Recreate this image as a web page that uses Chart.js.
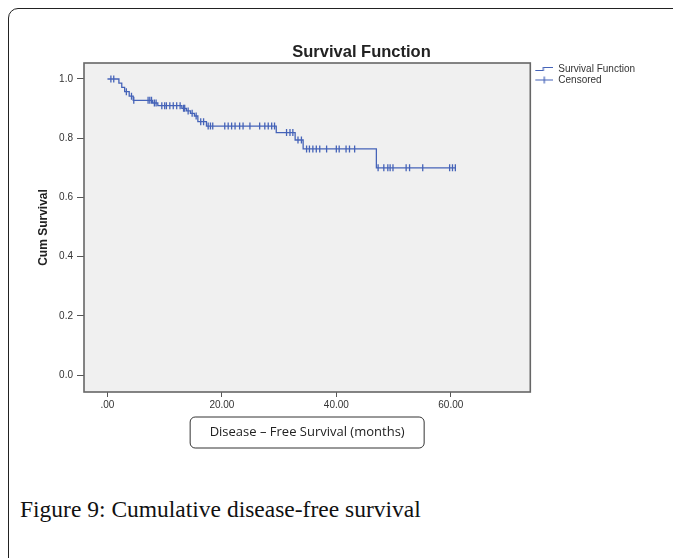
<!DOCTYPE html>
<html>
<head>
<meta charset="utf-8">
<script src="https://cdn.jsdelivr.net/npm/chart.js@4"></script>
<style>
  html, body { margin: 0; padding: 0; background: #fff; overflow: hidden; }
  body { width: 673px; height: 558px; position: relative; }
  #frame {
    position: absolute; left: 8px; top: 8px; width: 720px; height: 620px;
    border: 1.3px solid #222; border-radius: 10px; box-sizing: border-box;
  }
  #chart { position: absolute; left: 0; top: 0; }
  #caption {
    position: absolute; left: 20px; top: 496px;
    font-family: "Liberation Serif", "Times New Roman", serif; font-size: 23.5px; color: #111;
  }
</style>
</head>
<body>
<div id="frame"></div>
<canvas id="chart" width="673" height="460"></canvas>
<div id="caption">Figure 9: Cumulative disease-free survival</div>
<script>
// Kaplan-Meier steps: time (months) and survival after each event
const survTimes  = [0, 2.0, 2.5, 3.0, 3.8, 4.5, 7.9, 8.8, 13.0, 13.8, 14.5, 15.2, 15.8, 17.3, 29.5, 32.8, 34.2, 47.0, 60.9];
const survValues = [1.0, 0.986, 0.972, 0.957, 0.942, 0.928, 0.919, 0.910, 0.901, 0.892, 0.884, 0.875, 0.856, 0.841, 0.819, 0.794, 0.764, 0.700, 0.700];

// censored cases
const censorTimes = [
  0.6, 1.1, 3.3, 4.2, 4.6,
  7.1, 7.4, 7.7, 8.2, 8.5,
  9.5, 10.0, 10.3, 10.9, 11.5, 12.1, 12.7,
  13.3, 13.5, 14.1, 14.8, 15.5, 16.3, 16.8,
  17.6, 18.0, 18.4, 20.5, 21.1, 21.7, 22.3, 23.1, 23.7, 24.9, 26.6, 27.5, 28.1, 28.7, 29.2,
  31.3, 31.9, 32.4, 33.3, 33.9,
  34.8, 35.3, 35.9, 36.5, 37.1, 38.3, 40.0, 40.5, 41.7, 42.3, 43.2,
  47.3, 48.3, 49.0, 49.4, 49.9, 52.2, 52.8, 55.1, 59.8, 60.3, 60.8
];
const censorValues = [
  1.0, 1.0, 0.957, 0.942, 0.928,
  0.928, 0.928, 0.928, 0.919, 0.919,
  0.910, 0.910, 0.910, 0.910, 0.910, 0.910, 0.910,
  0.901, 0.901, 0.892, 0.884, 0.875, 0.856, 0.856,
  0.841, 0.841, 0.841, 0.841, 0.841, 0.841, 0.841, 0.841, 0.841, 0.841, 0.841, 0.841, 0.841, 0.841, 0.841,
  0.819, 0.819, 0.819, 0.794, 0.794,
  0.764, 0.764, 0.764, 0.764, 0.764, 0.764, 0.764, 0.764, 0.764, 0.764, 0.764,
  0.700, 0.700, 0.700, 0.700, 0.700, 0.700, 0.700, 0.700, 0.700, 0.700, 0.700
];

const xTickValues = [0, 20, 40, 60];
const xTickLabels = ['.00', '20.00', '40.00', '60.00'];
const yTickValues = [0, 0.2, 0.4, 0.6, 0.8, 1.0];
const yTickLabels = ['0.0', '0.2', '0.4', '0.6', '0.8', '1.0'];

const seriesNames = ['Survival Function', 'Censored'];
const chartTitle = 'Survival Function';
const xTitle = 'Disease \u2013 Free Survival (months)';
const yTitle = 'Cum Survival';

const blue = '#4563b8';
const sans = '"Liberation Sans", Arial, sans-serif';

// legend icons
function makeIcon(kind) {
  const c = document.createElement('canvas');
  c.width = 22; c.height = 10;
  const g = c.getContext('2d');
  g.strokeStyle = blue;
  g.lineWidth = 1.2;
  g.beginPath();
  if (kind === 'step') {
    g.moveTo(4, 6.5); g.lineTo(12, 6.5); g.lineTo(12, 3.5); g.lineTo(22, 3.5);
  } else {
    g.moveTo(4, 5); g.lineTo(22, 5);
    g.moveTo(13, 1.5); g.lineTo(13, 8.5);
  }
  g.stroke();
  return c;
}
const legendIcons = [makeIcon('step'), makeIcon('tick')];

const spssPlot = {
  id: 'spssPlot',
  beforeDraw(chart) {
    const {ctx, chartArea: a} = chart;
    ctx.save();
    ctx.fillStyle = '#f0f0f0';
    ctx.fillRect(a.left, a.top, a.right - a.left, a.bottom - a.top);
    ctx.restore();
  },
  afterDraw(chart) {
    const {ctx, chartArea: a} = chart;
    ctx.save();
    ctx.strokeStyle = '#666';
    ctx.lineWidth = 1.6;
    ctx.strokeRect(a.left, a.top, a.right - a.left, a.bottom - a.top);

    ctx.fillStyle = '#222';
    ctx.font = 'bold 16.5px ' + sans;
    ctx.textAlign = 'center';
    ctx.textBaseline = 'middle';
    ctx.fillText(chartTitle, (a.left + chart.legend.right) / 2 - 3, a.top - 11);

    // rounded box round the x axis title
    const xs = chart.scales.x;
    const cx = (a.left + a.right) / 2;
    const cy = xs.bottom - 19.5;
    const w = 234, h = 31;
    ctx.strokeStyle = '#333';
    ctx.lineWidth = 1;
    ctx.beginPath();
    ctx.roundRect(cx - w / 2, cy - h / 2, w, h, 5);
    ctx.stroke();
    ctx.restore();
  }
};

new Chart(document.getElementById('chart'), {
  type: 'line',
  data: {
    datasets: [
      {
        label: seriesNames[0],
        data: survTimes.map((t, i) => ({x: t, y: survValues[i]})),
        stepped: 'before',
        borderColor: blue,
        borderWidth: 1.3,
        pointRadius: 0,
        fill: false
      },
      {
        label: seriesNames[1],
        data: censorTimes.map((t, i) => ({x: t, y: censorValues[i]})),
        showLine: false,
        pointStyle: 'line',
        rotation: 90,
        pointRadius: 3.5,
        pointBorderWidth: 1.3,
        borderColor: blue,
        backgroundColor: blue
      }
    ]
  },
  options: {
    responsive: false,
    animation: false,
    devicePixelRatio: 1,
    layout: { padding: { left: 33, top: 63, right: 28, bottom: 8 } },
    plugins: {
      title: { display: false },
      tooltip: { enabled: false },
      legend: {
        position: 'right',
        align: 'start',
        fullSize: false,
        labels: {
          usePointStyle: true,
          pointStyleWidth: 22,
          padding: 1,
          color: '#333',
          font: { size: 10, family: sans },
          generateLabels(chart) {
            const items = Chart.defaults.plugins.legend.labels.generateLabels(chart);
            items.forEach((it, i) => { it.pointStyle = legendIcons[i]; it.rotation = 0; });
            return items;
          }
        }
      }
    },
    scales: {
      x: {
        type: 'linear',
        min: -4.1,
        max: 73.9,
        afterBuildTicks(scale) { scale.ticks = xTickValues.map(v => ({value: v})); },
        afterFit(scale) { scale.height = 60; },
        ticks: {
          callback: (v, i) => xTickLabels[i],
          color: '#333',
          font: { size: 10, family: sans },
          padding: 2,
          maxRotation: 0
        },
        grid: { drawOnChartArea: false, tickLength: 5, color: '#555' },
        border: { display: false },
        title: {
          display: true,
          text: xTitle,
          color: '#222',
          font: { size: 13, family: '"Open Sans", "DejaVu Sans", sans-serif' },
          padding: { top: 4, bottom: 12 }
        }
      },
      y: {
        type: 'linear',
        min: -0.057,
        max: 1.054,
        afterBuildTicks(scale) { scale.ticks = yTickValues.map(v => ({value: v})); },
        afterFit(scale) { scale.width = 51; },
        ticks: {
          callback: (v, i) => yTickLabels[i],
          color: '#333',
          font: { size: 10, family: sans },
          padding: 4
        },
        grid: { drawOnChartArea: false, tickLength: 7, color: '#555' },
        border: { display: false },
        title: {
          display: true,
          text: yTitle,
          color: '#222',
          font: { size: 12, weight: 'bold', family: sans },
          padding: { top: 3, bottom: 4 }
        }
      }
    }
  },
  plugins: [spssPlot]
});
</script>
</body>
</html>
